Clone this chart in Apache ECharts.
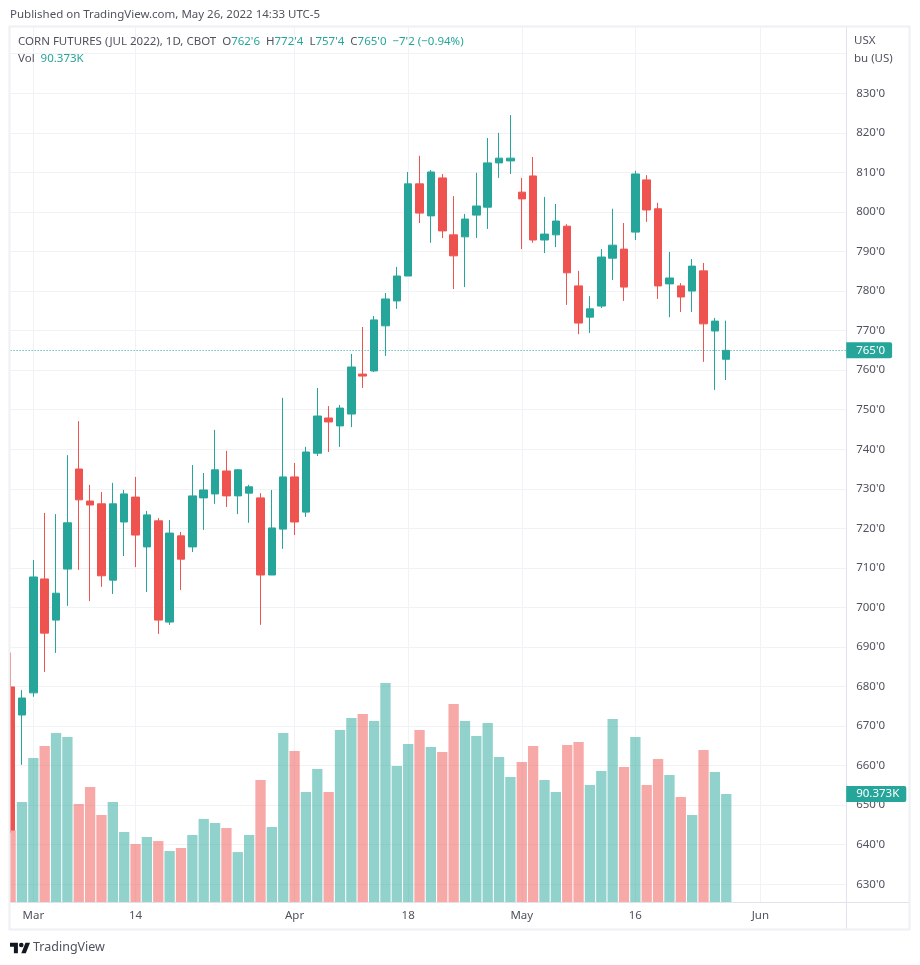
<!DOCTYPE html>
<html>
<head>
<meta charset="utf-8">
<title>Corn futures</title>
<style>
  html, body { margin: 0; padding: 0; background: #fff; }
  #chart { width: 920px; height: 965px; }
</style>
<script src="https://cdn.jsdelivr.net/npm/echarts@6/dist/echarts.min.js"></script>
</head>
<body>
<div id="chart"></div>
<script>
const dates = [
  '02-25', '02-28', '03-01', '03-02', '03-03', '03-04', '03-07', '03-08', '03-09', '03-10', '03-11',
  '03-14', '03-15', '03-16', '03-17', '03-18', '03-21', '03-22', '03-23', '03-24', '03-25',
  '03-28', '03-29', '03-30', '03-31', '04-01', '04-04', '04-05', '04-06', '04-07', '04-08',
  '04-11', '04-12', '04-13', '04-14', '04-18', '04-19', '04-20', '04-21', '04-22',
  '04-25', '04-26', '04-27', '04-28', '04-29', '05-02', '05-03', '05-04', '05-05', '05-06',
  '05-09', '05-10', '05-11', '05-12', '05-13', '05-16', '05-17', '05-18', '05-19', '05-20',
  '05-23', '05-24', '05-25', '05-26'
]
// empty sessions to the right of the last bar
const futureDates = ['05-27', '05-31', '06-01', '06-02', '06-03', '06-06', '06-07', '06-08', '06-09', '06-10', '06-13']

const opens = [
  679.9, 672.8, 678.4, 707.2, 696.8, 709.7, 735.0, 726.9, 726.2, 706.9, 721.6,
  727.9, 715.3, 721.9, 696.3, 718.1, 715.3, 727.7, 728.7, 734.5, 728.2,
  728.9, 727.7, 708.2, 719.8, 733.0, 724.1, 739.0, 747.9, 745.9, 748.9,
  759.0, 759.8, 771.2, 777.5, 783.8, 807.1, 799.0, 808.6, 794.2,
  793.7, 799.2, 801.2, 812.4, 812.9, 805.0, 809.1, 792.9, 794.2, 796.4,
  781.3, 773.4, 776.2, 788.3, 790.6, 794.9, 808.1, 800.8, 781.8, 781.3,
  780.0, 785.1, 769.9, 762.75
]
const closes = [
  643.7, 677.1, 707.7, 693.5, 703.6, 721.4, 727.2, 725.9, 708.0, 726.2, 728.7,
  718.3, 723.4, 696.8, 718.8, 712.2, 728.2, 729.7, 734.8, 728.2, 734.8,
  730.5, 708.2, 720.1, 733.0, 721.6, 739.3, 748.4, 746.9, 750.4, 760.8,
  758.5, 772.7, 778.0, 783.8, 807.1, 799.7, 810.1, 795.2, 788.9,
  798.2, 801.5, 812.4, 813.6, 813.6, 803.3, 792.9, 794.4, 797.7, 784.6,
  771.9, 775.5, 788.6, 791.6, 781.0, 809.6, 800.5, 781.3, 783.3, 778.5,
  786.3, 771.7, 772.4, 765.0
]
const lows = [
  643.0, 660.2, 677.4, 683.7, 688.5, 700.4, 709.5, 701.6, 705.2, 703.4, 713.0,
  710.2, 703.9, 693.3, 695.6, 704.4, 714.0, 719.6, 726.2, 725.4, 723.6,
  721.4, 695.6, 708.2, 714.8, 718.3, 722.9, 738.3, 739.3, 740.6, 745.6,
  755.5, 759.5, 763.6, 775.5, 783.8, 797.2, 792.2, 793.4, 780.5,
  781.0, 793.4, 795.7, 808.6, 809.6, 790.6, 792.2, 789.6, 791.1, 776.5,
  769.1, 769.4, 775.7, 782.8, 777.5, 792.9, 797.5, 778.0, 773.4, 774.7,
  774.7, 762.1, 755.0, 757.5
]
const highs = [
  688.6, 679.1, 712.0, 723.9, 723.6, 738.5, 747.1, 731.0, 729.2, 731.5, 729.7,
  733.0, 724.4, 722.6, 722.1, 719.1, 736.0, 734.0, 744.9, 739.6, 735.0,
  731.0, 728.9, 729.7, 753.0, 736.5, 740.6, 755.5, 750.9, 751.2, 764.1,
  770.9, 773.7, 779.5, 786.1, 810.1, 814.2, 810.6, 809.6, 804.0,
  799.5, 809.9, 818.7, 820.0, 824.5, 808.6, 813.9, 803.8, 802.0, 796.9,
  785.1, 778.7, 790.6, 800.8, 797.2, 810.4, 809.3, 802.3, 789.9, 782.0,
  788.1, 787.1, 773.2, 772.5
]
// thousands of contracts
const volumes = [
  60.2, 83.7, 120.5, 130.5, 141.4, 138.1, 82.0, 96.2, 72.8, 83.7, 58.6,
  48.5, 54.4, 51.0, 42.7, 45.2, 56.1, 69.5, 66.1, 61.9, 41.8,
  56.1, 102.1, 62.8, 141.4, 126.4, 92.0, 111.3, 92.0, 143.9, 154.0,
  157.3, 151.5, 183.3, 113.8, 132.2, 143.9, 129.7, 125.5, 165.7,
  151.5, 138.9, 149.8, 121.3, 104.6, 117.2, 130.5, 102.1, 92.0, 131.4,
  133.9, 97.9, 109.6, 153.1, 113.0, 138.1, 97.9, 119.7, 106.3, 87.9,
  72.8, 127.2, 108.8, 90.373
]

const timeLabels = { '03-01': 'Mar', '03-14': '14', '04-01': 'Apr', '04-18': '18', '05-02': 'May', '05-16': '16', '06-01': 'Jun' }
const priceLabels = [630, 640, 650, 660, 670, 680, 690, 700, 710, 720, 730, 740, 750, 760, 770, 780, 790, 800, 810, 820, 830]
const priceGrid = priceLabels.concat([840])

const lastPrice = 765.0
const lastVolume = 90.373

const UP = '#26a69a'
const DOWN = '#ef5350'
const FONT = 'Noto Sans'
const FRAME = '#eef0f4'
const LINE = '#e0e3eb'
const GRID = '#f0f2f5'

const isTick = (index, value) => timeLabels[value] !== undefined

const frameLine = (x1, y1, x2, y2, color, width, z) => ({
  type: 'line',
  z: z,
  shape: {x1, y1, x2, y2},
  style: {stroke: color, lineWidth: width}
})

const lastValueLabel = (text) => ({
  position: 'end',
  distance: -5,
  formatter: text,
  color: '#fff',
  fontFamily: FONT,
  fontSize: 11.5,
  backgroundColor: UP,
  padding: [2, 7, 2, 10],
  borderRadius: [0, 2, 2, 0]
})

const chart = echarts.init(document.getElementById('chart'), null, {renderer: 'canvas'})

chart.setOption({
  animation: false,
  backgroundColor: '#fff',
  textStyle: {fontFamily: FONT},
  title: [
    {
      text: 'Published on TradingView.com, May 26, 2022 14:33 UTC-5',
      left: 10, top: 9, padding: 0,
      textStyle: {fontFamily: FONT, fontSize: 11.5, fontWeight: 'normal', color: '#50535e'}
    },
    {
      text: "{n|CORN FUTURES (JUL 2022), 1D, CBOT}  {n|O}{v|762'6}  {n|H}{v|772'4}  {n|L}{v|757'4}  {n|C}{v|765'0}  {v|−7'2 (−0.94%)}",
      left: 18, top: 36, padding: 0,
      textStyle: {
        fontFamily: FONT, fontSize: 11.5, fontWeight: 'normal',
        rich: {
          n: {fontFamily: FONT, fontSize: 11.5, color: '#50535e'},
          v: {fontFamily: FONT, fontSize: 11.5, color: UP}
        }
      }
    },
    {
      text: '{n|Vol}  {v|90.373K}',
      left: 18, top: 53, padding: 0,
      textStyle: {
        fontFamily: FONT, fontSize: 11.5, fontWeight: 'normal',
        rich: {
          n: {fontFamily: FONT, fontSize: 11.5, color: '#50535e'},
          v: {fontFamily: FONT, fontSize: 11.5, color: UP}
        }
      }
    },
    {
      text: 'USX',
      left: 854, top: 35, padding: 0,
      textStyle: {fontFamily: FONT, fontSize: 11.5, fontWeight: 'normal', color: '#50535e'}
    },
    {
      text: 'bu (US)',
      left: 854, top: 53, padding: 0,
      textStyle: {fontFamily: FONT, fontSize: 11.5, fontWeight: 'normal', color: '#50535e'}
    },
    {
      text: 'TradingView',
      left: 33, top: 941, padding: 0,
      textStyle: {fontFamily: FONT, fontSize: 12.5, fontWeight: 'normal', color: '#50535e'}
    }
  ],
  grid: {left: 10.6, top: 27, width: 840.6, height: 875},
  xAxis: {
    type: 'category',
    data: dates.concat(futureDates),
    boundaryGap: false,
    axisLine: {show: false},
    axisTick: {show: false},
    axisLabel: {
      interval: isTick,
      formatter: (value) => timeLabels[value],
      color: '#50535e',
      fontFamily: FONT,
      fontSize: 11.5,
      margin: 8
    },
    splitLine: {show: true, interval: isTick, lineStyle: {color: GRID, width: 1}}
  },
  yAxis: [
    {
      type: 'value',
      position: 'right',
      min: 625.52,
      max: 846.76,
      axisLine: {show: false},
      axisTick: {show: false, customValues: priceGrid},
      axisLabel: {
        customValues: priceLabels,
        formatter: (value) => value + "'0",
        color: '#50535e',
        fontFamily: FONT,
        fontSize: 11.5,
        margin: 5
      },
      splitLine: {show: true, lineStyle: {color: GRID, width: 1}}
    },
    {
      type: 'value',
      min: 0,
      max: 732.2,
      show: false,
      splitLine: {show: false}
    }
  ],
  series: [
    {
      type: 'bar',
      yAxisIndex: 1,
      z: 1,
      barWidth: 10.3,
      data: volumes.map((v, i) => ({
        value: v,
        itemStyle: {color: closes[i] >= opens[i] ? 'rgba(38,166,154,0.5)' : 'rgba(239,83,80,0.5)'}
      })),
      markLine: {
        silent: true,
        symbol: 'none',
        lineStyle: {color: 'transparent'},
        data: [{yAxis: lastVolume}],
        label: lastValueLabel('90.373K')
      }
    },
    {
      type: 'candlestick',
      z: 2,
      barWidth: 8,
      data: opens.map((o, i) => [o, closes[i], lows[i], highs[i]]),
      itemStyle: {color: UP, color0: DOWN, borderColor: UP, borderColor0: DOWN, borderWidth: 1},
      markLine: {
        silent: true,
        symbol: 'none',
        lineStyle: {color: UP, type: [1, 2], width: 1},
        data: [{yAxis: lastPrice}],
        label: lastValueLabel("765'0")
      }
    }
  ],
  graphic: {
    elements: [
      {type: 'rect', z: 1, shape: {x: 847, y: 28, width: 6, height: 874}, style: {fill: '#fff'}},
      // keeps the part-visible first bar inside the frame
      {type: 'rect', z: 10, shape: {x: 0, y: 27, width: 10, height: 876}, style: {fill: '#fff'}},
      {type: 'rect', z: 11, shape: {x: 9.5, y: 26.5, width: 900, height: 903}, style: {fill: 'none', stroke: FRAME, lineWidth: 2}},
      frameLine(846.5, 27, 846.5, 929, LINE, 1, 1),
      frameLine(10, 902.5, 909, 902.5, LINE, 1, 1),
      // logo
      {type: 'polygon', z: 1, shape: {points: [[10, 942.7], [17.9, 942.7], [17.9, 953.3], [13.9, 953.3], [13.9, 946.8], [10, 946.8]]}, style: {fill: '#131722'}},
      {type: 'polygon', z: 1, shape: {points: [[21.3, 953.3], [25.5, 942.7], [30, 942.7], [25.8, 953.3]]}, style: {fill: '#131722'}},
      {type: 'circle', z: 1, shape: {cx: 21.3, cy: 945, r: 2.3}, style: {fill: '#131722'}}
    ]
  }
})
</script>
</body>
</html>
